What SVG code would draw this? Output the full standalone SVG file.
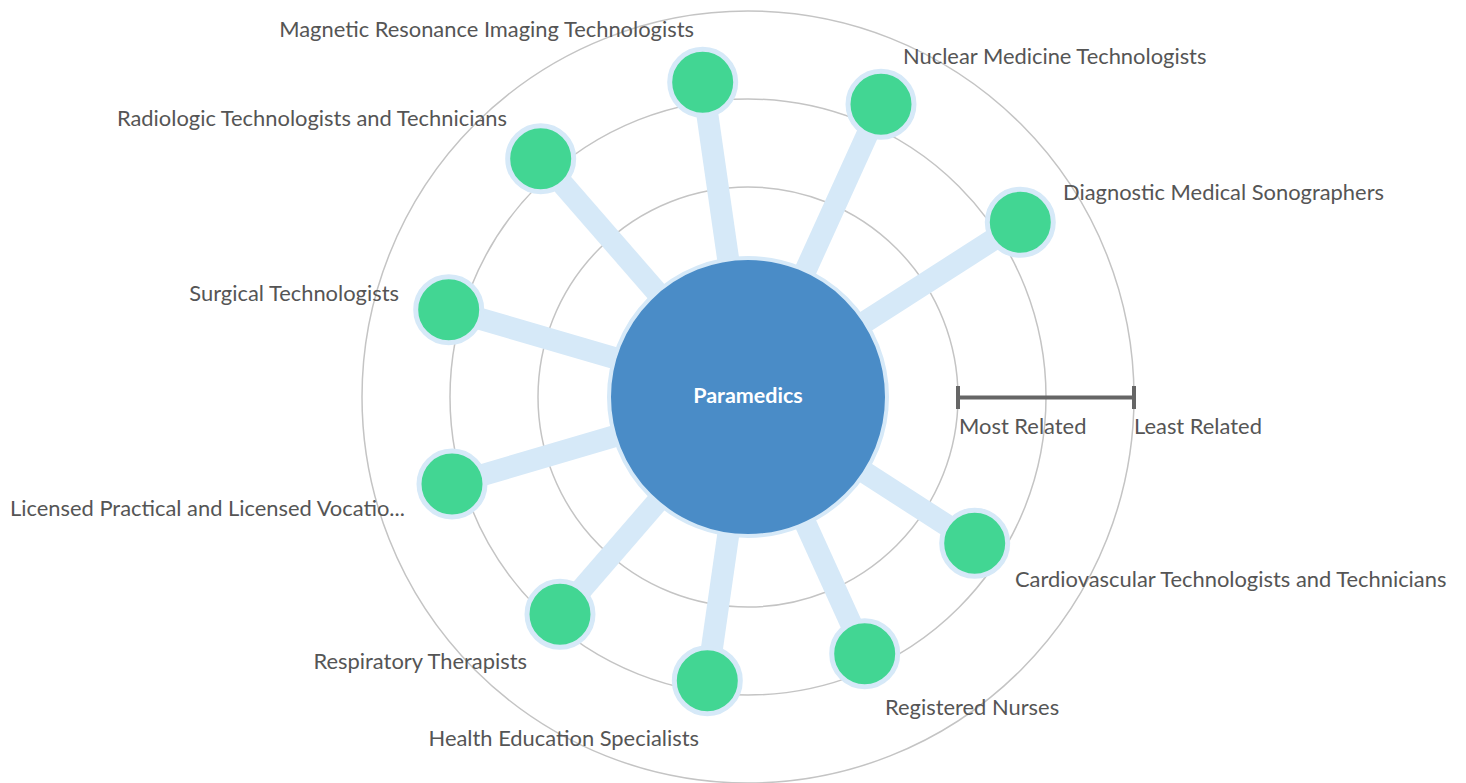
<svg xmlns="http://www.w3.org/2000/svg" width="1466" height="783" viewBox="0 0 1466 783">
<style>
.ring{fill:none;stroke:#c4c4c4;stroke-width:1.5}
.conn{stroke:#d6e9f8;stroke-width:22;stroke-linecap:butt}
.node{fill:#42d693;stroke:#d6e9f8;stroke-width:5}
.lbl{font-family:Lato,"Liberation Sans",sans-serif;font-size:21.9px;fill:#555}
.end{text-anchor:end}
.bar{stroke:#666;stroke-width:4;fill:none}
</style>
<rect width="1466" height="783" fill="#fff"/>
<g id="rings">
<circle class="ring" cx="748" cy="397" r="122"/>
<circle class="ring" cx="748" cy="397" r="210"/>
<circle class="ring" cx="748" cy="397" r="298"/>
<circle class="ring" cx="748" cy="397" r="386"/>
</g>
<g id="connectors">
<line class="conn" x1="748" y1="397" x2="702.7" y2="82.3"/>
<line class="conn" x1="748" y1="397" x2="881" y2="104.3"/>
<line class="conn" x1="748" y1="397" x2="1020.3" y2="222.3"/>
<line class="conn" x1="748" y1="397" x2="540.7" y2="158.7"/>
<line class="conn" x1="748" y1="397" x2="448.7" y2="309.7"/>
<line class="conn" x1="748" y1="397" x2="452" y2="484"/>
<line class="conn" x1="748" y1="397" x2="560" y2="614.3"/>
<line class="conn" x1="748" y1="397" x2="707.3" y2="680.7"/>
<line class="conn" x1="748" y1="397" x2="864.7" y2="653.7"/>
<line class="conn" x1="748" y1="397" x2="974.7" y2="543.3"/>
</g>
<g id="center">
<circle cx="748" cy="397" r="139" fill="#4a8cc7" stroke="#d6e9f8" stroke-width="4"/>
<text x="748" y="403" text-anchor="middle" style="font-family:Lato,'Liberation Sans',sans-serif;font-size:21.5px;font-weight:bold;fill:#fff">Paramedics</text>
</g>
<g id="n-mri"><circle class="node" cx="702.7" cy="82.3" r="33"/><text class="lbl end" x="694" y="37">Magnetic Resonance Imaging Technologists</text></g>
<g id="n-nuclear"><circle class="node" cx="881" cy="104.3" r="33"/><text class="lbl" x="903" y="64">Nuclear Medicine Technologists</text></g>
<g id="n-sono"><circle class="node" cx="1020.3" cy="222.3" r="33"/><text class="lbl" x="1063" y="200">Diagnostic Medical Sonographers</text></g>
<g id="n-radio"><circle class="node" cx="540.7" cy="158.7" r="33"/><text class="lbl end" x="507" y="126">Radiologic Technologists and Technicians</text></g>
<g id="n-surg"><circle class="node" cx="448.7" cy="309.7" r="33"/><text class="lbl end" x="399" y="301">Surgical Technologists</text></g>
<g id="n-lpn"><circle class="node" cx="452" cy="484" r="33"/><text class="lbl" x="10" y="516">Licensed Practical and Licensed Vocatio...</text></g>
<g id="n-resp"><circle class="node" cx="560" cy="614.3" r="33"/><text class="lbl end" x="527" y="669">Respiratory Therapists</text></g>
<g id="n-health"><circle class="node" cx="707.3" cy="680.7" r="33"/><text class="lbl end" x="699" y="746">Health Education Specialists</text></g>
<g id="n-rn"><circle class="node" cx="864.7" cy="653.7" r="33"/><text class="lbl" x="885" y="715">Registered Nurses</text></g>
<g id="n-cardio"><circle class="node" cx="974.7" cy="543.3" r="33"/><text class="lbl" x="1015" y="587">Cardiovascular Technologists and Technicians</text></g>
<g id="scale">
<line class="bar" x1="958" y1="397.5" x2="1134" y2="397.5"/>
<line class="bar" x1="958" y1="386" x2="958" y2="409"/>
<line class="bar" x1="1134" y1="386" x2="1134" y2="409"/>
<text class="lbl" x="959" y="434">Most Related</text>
<text class="lbl" x="1134" y="434">Least Related</text>
</g>
</svg>
